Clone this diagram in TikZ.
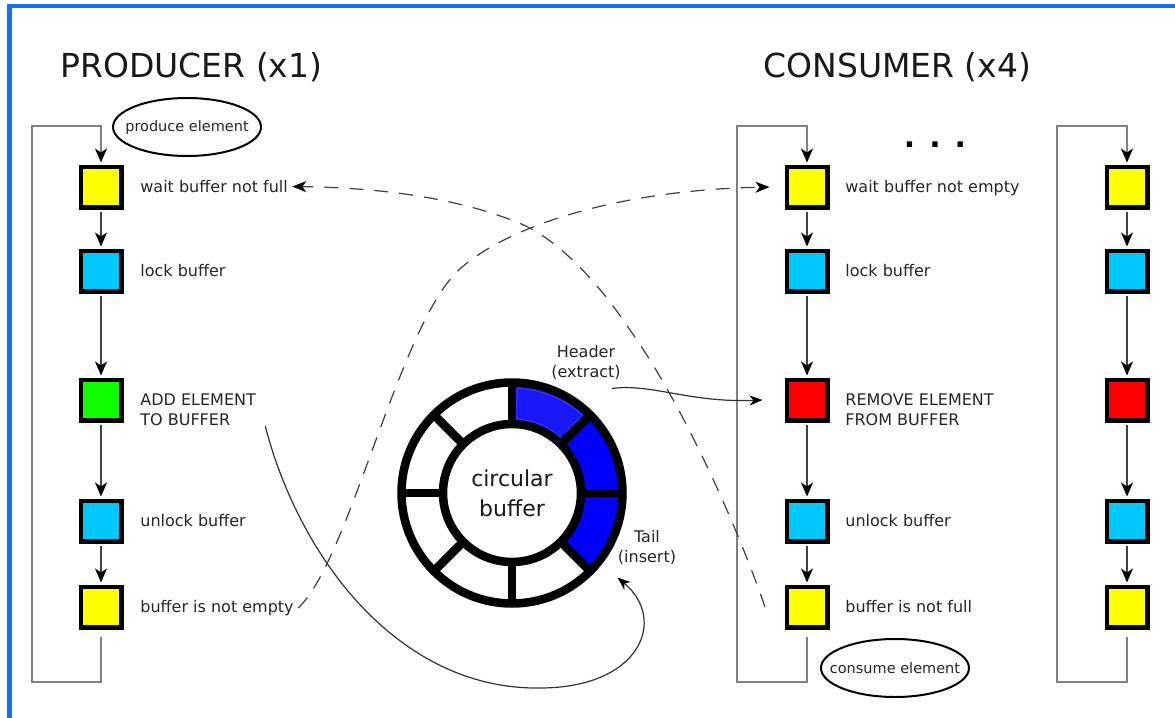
\documentclass[tikz,border=0pt]{standalone}
\usepackage{fontspec}
\setmainfont{DejaVu Sans}
\usetikzlibrary{arrows.meta}

\definecolor{frameblue}{RGB}{16,112,240}
\definecolor{stepyellow}{RGB}{255,255,0}
\definecolor{stepcyan}{RGB}{0,200,255}
\definecolor{stepgreen}{RGB}{16,255,0}
\definecolor{stepred}{RGB}{255,0,0}
\definecolor{slotblue}{RGB}{0,0,255}
\definecolor{slotlight}{RGB}{24,24,250}
\definecolor{loopgray}{RGB}{128,128,128}

\tikzset{
  sq/.style={draw=black,line width=2.15pt,minimum size=20.35pt,inner sep=0pt},
  lbl/.style={anchor=mid west,font=\fontsize{8}{10}\selectfont,text=black!85,inner sep=2pt},
  lbltwo/.style={anchor=north west,align=left,font=\fontsize{8}{10}\selectfont,text=black!85,inner sep=0pt},
  title/.style={anchor=base west,inner sep=0pt,font=\fontsize{16.5}{20}\selectfont,text=black!90},
  bubble/.style={inner sep=0pt,font=\fontsize{7.25}{8}\selectfont,text=black!85},
  rim/.style={draw=black,line width=1pt},
  loopline/.style={draw=loopgray,line width=1pt,-{Stealth[length=7pt,width=6pt,inset=2pt,color=black]},shorten >=1pt},
  flow/.style={draw=black!75,line width=.75pt,-{Stealth[length=7pt,width=6pt,inset=2pt,color=black]},
    shorten <=1pt,shorten >=1pt},
  signal/.style={draw=black!75,line width=.6pt,dash pattern=on 7pt off 5.5pt,-{Stealth[length=7pt,width=5.5pt,inset=2pt,color=black]}},
  feed/.style={draw=black!80,line width=.6pt,-{Stealth[length=6.5pt,width=5pt,inset=2pt,color=black]}},
  ringline/.style={draw=black,line width=4.25pt},
  note/.style={align=center,inner sep=0pt,font=\fontsize{8}{10}\selectfont,text=black!85}
}

\begin{document}
\begin{tikzpicture}[x=.5pt,y=-.5pt]
  \useasboundingbox (0,0) rectangle (1175,718);
  \draw[frameblue,line width=2.2pt] (9.5,718) -- (9.5,6) -- (1175,6);

  % titles
  \node[title] (ptitle) at (60,77) {PRODUCER (x1)};
  \node[title] (ctitle) at (763,77) {CONSUMER (x4)};
  \node[font=\bfseries\fontsize{15}{15}\selectfont] (dots) at (935,145) {. . .};

  % steps of the three columns
  \foreach \i/\y/\col in {1/187/stepyellow,2/271/stepcyan,3/400/stepgreen,4/521/stepcyan,5/607/stepyellow}
    \node[sq,fill=\col] (p\i) at (101,\y) {};
  \foreach \i/\y/\col in {1/187/stepyellow,2/271/stepcyan,3/400/stepred,4/521/stepcyan,5/607/stepyellow}{
    \node[sq,fill=\col] (c\i) at (807,\y) {};
    \node[sq,fill=\col] (d\i) at (1127,\y) {};
  }

  \node[lbl] (pl1) at (136,187) {wait buffer not full};
  \node[lbl] (pl2) at (136,271) {lock buffer};
  \node[lbltwo] (pl3) at (140,393.5) {ADD ELEMENT\\TO BUFFER};
  \node[lbl] (pl4) at (136,521) {unlock buffer};
  \node[lbl] (pl5) at (136,607) {buffer is not empty};

  \node[lbl] (cl1) at (841,187) {wait buffer not empty};
  \node[lbl] (cl2) at (841,271) {lock buffer};
  \node[lbltwo] (cl3) at (845,393.5) {REMOVE ELEMENT\\FROM BUFFER};
  \node[lbl] (cl4) at (841,521) {unlock buffer};
  \node[lbl] (cl5) at (841,607) {buffer is not full};

  \node[bubble] (pelem) at (187,127) {produce element};
  \draw[rim] (pelem) ellipse[x radius=74,y radius=29];
  \node[bubble] (celem) at (895,668) {consume element};
  \draw[rim] (celem) ellipse[x radius=74,y radius=29];

  % loops and step arrows
  \foreach \n/\lx in {p/32,c/737,d/1057}{
    \draw[loopline,shorten <=3.5pt] (\n5.south) -- ++(0,52.5) -| (\lx,126) -| (\n1.north);
    \foreach \i/\j in {1/2,2/3,3/4,4/5}
      \draw[flow] (\n\i.south) -- (\n\j.north);
  }

  % circular buffer
  \node[align=center,inner sep=0pt,font=\fontsize{11}{15}\selectfont,text=black!90] (cbuf) at (512,493) {circular\\buffer};
  \begin{scope}[shift={(cbuf)}]
    \foreach \a/\b/\c in {-90/-45/slotlight,-45/0/slotblue,0/45/slotblue}
      \fill[\c] (\a:110) arc[start angle=\a,end angle=\b,radius=110] -- (\b:69)
        arc[start angle=\b,end angle=\a,radius=69] -- cycle;
    \draw[slotblue!80!white,line width=.6pt] (-87:105) arc[start angle=-87,end angle=-48,radius=105]
      -- (-48:74) arc[start angle=-48,end angle=-87,radius=74] -- cycle;
    \draw[ringline] (0,0) circle[radius=69];
    \draw[ringline] (0,0) circle[radius=110.5];
    \foreach \a in {0,45,...,315}
      \draw[ringline] (\a:69) -- (\a:110.5);
  \end{scope}
  \node[note] (hdr) at (586,362) {Header\\(extract)};
  \node[note] (tail) at (647,547) {Tail\\(insert)};

  % connections
  \draw[signal] (pl5.east) .. controls (350,560) and (400,320) .. (461,268)
    .. controls (510,225) and (620,190) .. ([xshift=-7.5pt]c1.west);
  \draw[signal] ([xshift=-9.75pt]c5.west) .. controls (735,520) and (680,400) .. (630,330)
    .. controls (600,285) and (560,240) .. (519,223)
    .. controls (470,203) and (400,188) .. (pl1.east);
  \draw[feed] ([shift={(-4.5pt,-4.5pt)}]hdr.south east) .. controls (650,383) and (690,403) .. ([xshift=-11pt]c3.west);
  \draw[feed] ([xshift=4.5pt]pl3.south east) .. controls (300,560) and (400,690) .. (540,688)
    .. controls (640,688) and (668,620) .. ([yshift=-6.5pt]tail.south west);
\end{tikzpicture}
\end{document}
